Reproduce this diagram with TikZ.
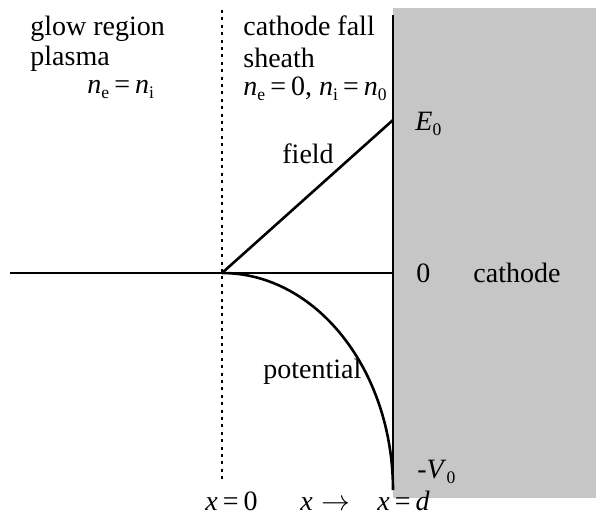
\documentclass[tikz,border=0pt]{standalone}
\usepackage{fontspec}
\setmainfont{Liberation Serif}
\usepackage{xcolor}
\usepackage{tikz}
\usetikzlibrary{calc,positioning}
\definecolor{cathodegray}{RGB}{198,198,198}
\newcommand{\lowsub}[1]{\raisebox{-0.18em}{\fontsize{8.8}{9}\selectfont #1}}
\newcommand{\vv}[1]{\textit{#1}}
\newcommand{\eqsign}{\hspace{0.18em}=\hspace{0.18em}}

\begin{document}
\begin{tikzpicture}[x=0.5pt,y=-0.5pt,
    lbl/.style={anchor=base west,inner sep=0pt,font=\fontsize{14}{16}\selectfont},
    curve/.style={line width=1.3pt},
    boundary/.style={line width=1.3pt,dash pattern=on 1.5pt off 2.2pt}]
  \useasboundingbox (0,0) rectangle (596,516);
  % cathode block
  \fill[cathodegray] (393,8) rectangle (596,498);
  \coordinate (wallTop) at (393,15);
  \coordinate (wallBot) at (393,490);
  \coordinate (axisL) at (10,273);
  \coordinate (origin) at (222,273);
  \coordinate (axisR) at (393,273);
  \coordinate (fieldTop) at (393,120);
  \coordinate (dotTop) at (222,10);
  \coordinate (dotBot) at (222,482);
  \draw[curve] (wallTop) -- (wallBot);
  \draw[curve] (axisL) -- (axisR);
  \draw[boundary] (dotTop) -- (dotBot);
  % field and potential
  \draw[curve] (origin) -- (fieldTop);
  \draw[curve] (origin) .. controls (316,273) and (393,370) .. (wallBot);
  % region labels
  \node[lbl] (glow) at (30,35) {glow region};
  \node[lbl] (plasma) at (30,65) {plasma};
  \node[lbl] (plasmaDens) at (87,93) {\vv{n}\lowsub{e}\eqsign\vv{n}\lowsub{i}};
  \node[lbl] (fall) at (243,35) {cathode fall};
  \node[lbl] (sheath) at (243,67) {sheath};
  \node[lbl] (sheathDens) at (243,95) {\vv{n}\lowsub{e}\eqsign 0, \vv{n}\lowsub{i}\eqsign\vv{n}\lowsub{0}};
  \node[lbl] (fieldLbl) at (282,163) {field};
  \node[lbl] (potLbl) at (263,378) {potential};
  \node[lbl] (eZero) at (415,130) {\vv{E}\lowsub{0}};
  \node[lbl] (zero) at (416,282) {0};
  \node[lbl] (cathLbl) at (473,282) {cathode};
  \node[lbl] (vZero) at (417,478) {-\vv{V}\lowsub{0}};
  \node[lbl] (xZero) at (205,510) {\vv{x}\eqsign 0};
  \node[lbl] (xArrow) at (300,510) {\vv{x}\hspace{0.3em}$\rightarrow$};
  \node[lbl] (xD) at (377,510) {\vv{x}\eqsign\vv{d}};
\end{tikzpicture}
\end{document}
